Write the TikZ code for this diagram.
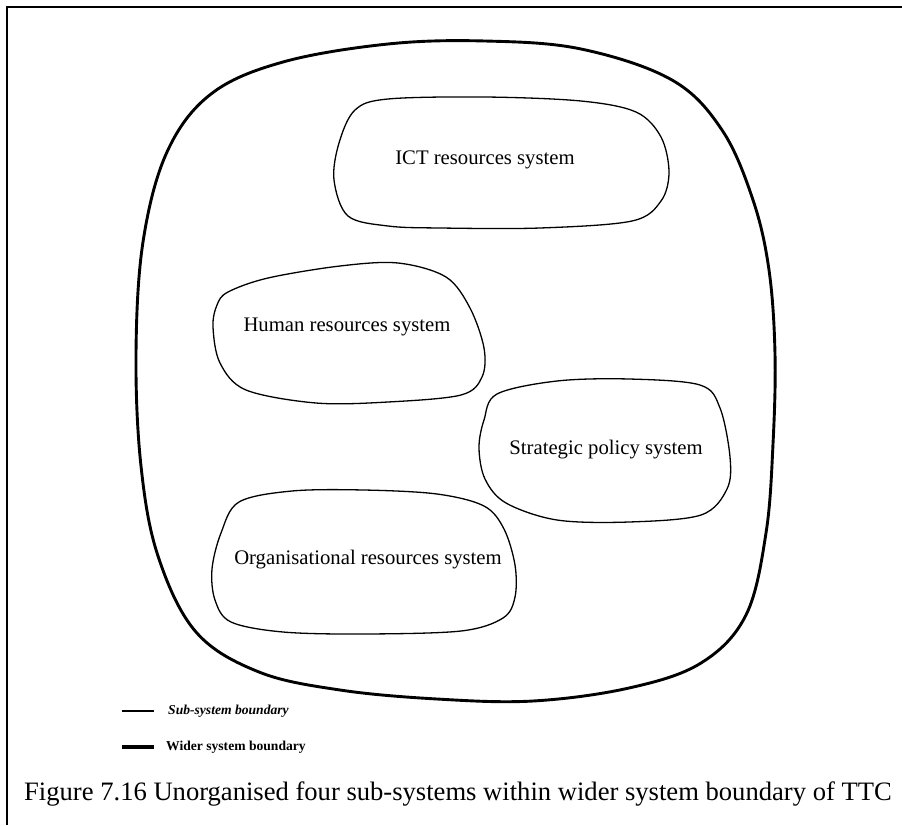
\documentclass[tikz,border=0pt]{standalone}
\usepackage{fontspec}
\setmainfont{Liberation Serif}
\begin{document}
\begin{tikzpicture}[x=1pt,y=-1pt,
  wider/.style={line width=2.9pt, line join=round},
  subsys/.style={line width=1.3pt, line join=round},
  syslabel/.style={font=\fontsize{20.7}{24}\selectfont, inner sep=0pt},
  keytext/.style={font=\bfseries\fontsize{13.6}{16}\selectfont, anchor=west, inner sep=0pt},
  frameline/.style={line width=1.4pt}]
\useasboundingbox (0,0) rectangle (902,825);

% page frame (top and left rules)
\coordinate (ftl) at (7,7);
\coordinate (ftr) at (902,7);
\coordinate (fbl) at (7,825);
\draw[frameline] (ftr) -- (ftl) -- (fbl);

% wider system boundary
\draw[wider] plot[smooth cycle, tension=0.6] coordinates {
  (485,41) (581,49) (672,80) (722,130) (753,200) (769,270) (775,354)
  (773,444) (766,533) (746,615) (701,663) (629,688) (533,701) (437,699)
  (340,690) (259,672) (196,632) (158,556) (141,466) (136,354) (143,242)
  (167,152) (211,94) (283,62) (388,44)};

% sub-system labels
\node[syslabel] (ict) at (485,160) {ICT resources system};
\node[syslabel] (hr)  at (347,327) {Human resources system};
\node[syslabel] (sp)  at (606,450) {Strategic policy system};
\node[syslabel] (org) at (368,560) {Organisational resources system};

% sub-system boundaries
\draw[subsys] plot[smooth cycle, tension=0.55] coordinates {
  (355,110) (388,99) (485,97) (581,101) (636,112) (661,137) (669,172)
  (661,201) (632,221) (540,228) (440,228) (388,226) (348,216) (334,180)
  (339,143)};
\draw[subsys] plot[smooth cycle, tension=0.55] coordinates {
  (228,292) (268,278) (340,266) (398,263) (446,277) (470,308) (484,348)
  (482,377) (461,395) (388,402) (316,403) (246,390) (220,363) (213,327)
  (217,305)};
\draw[subsys] plot[smooth cycle, tension=0.55] coordinates {
  (497,394) (557,381) (629,379) (700,385) (720,408) (730,457) (727,489)
  (701,515) (629,522) (557,520) (506,503) (485,479) (479,448) (484,420)};
\draw[subsys] plot[smooth cycle, tension=0.55] coordinates {
  (239,502) (292,491) (364,490) (437,494) (484,506) (504,529) (515,565)
  (515,597) (503,618) (461,631) (364,634) (283,632) (231,622) (215,600)
  (212,569) (221,533)};

% key
\coordinate (k1a) at (122,711);
\coordinate (k1b) at (154,711);
\draw[line width=1.4pt] (k1a) -- (k1b);
\node[keytext, font=\bfseries\itshape\fontsize{13.6}{16}\selectfont] (k1) at (168,711) {Sub-system boundary};
\coordinate (k2a) at (122,747);
\coordinate (k2b) at (154,747);
\draw[line width=3.4pt] (k2a) -- (k2b);
\node[keytext] (k2) at (166,747) {Wider system boundary};

% caption
\node[font=\fontsize{26.6}{30}\selectfont, anchor=west, inner sep=0pt] (cap) at (24,794)
  {Figure 7.16 Unorganised four sub-systems within wider system boundary of TTC};
\end{tikzpicture}
\end{document}
